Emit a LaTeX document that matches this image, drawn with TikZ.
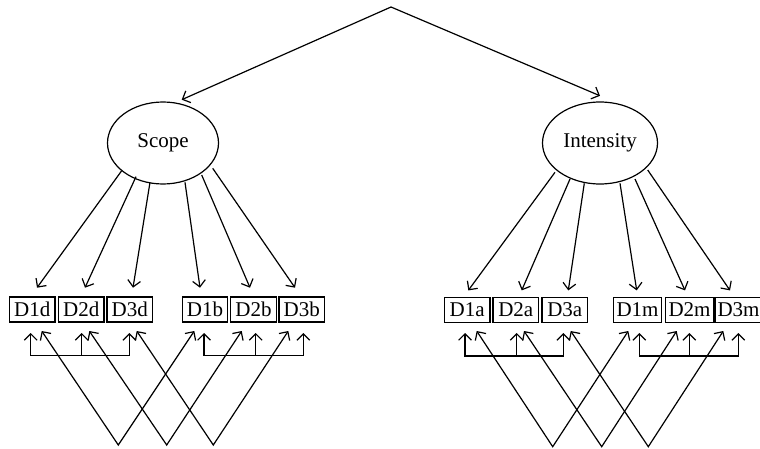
\documentclass[tikz,border=0pt]{standalone}
\usepackage{fontspec}
\setmainfont{Liberation Serif}
\usetikzlibrary{shapes.geometric,arrows.meta,calc}
\begin{document}
\begin{tikzpicture}[x=0.5pt,y=-0.5pt,line width=0.6pt,
  lat/.style={draw,ellipse,inner sep=0pt,minimum height=41pt,font=\fontsize{10.5}{12}\selectfont},
  obs/.style={draw,rectangle,inner sep=0pt,minimum width=22.75pt,minimum height=12.5pt,font=\fontsize{10.5}{12}\selectfont},
  obsm/.style={obs,minimum width=24.25pt},
  arr/.style={-{Straight Barb[length=3.2pt,width=6.4pt]}},
  darr/.style={{Straight Barb[length=3.2pt,width=6.4pt]}-{Straight Barb[length=3.2pt,width=6.4pt]}}]
\useasboundingbox (0,0) rectangle (760,449);
% latent variables
\node[lat,minimum width=55.5pt] (S) at (163,143) {Scope};
\node[lat,minimum width=57.5pt] (I) at (600,143) {Intensity};
\coordinate (top) at (391,7);
\draw[arr] (top) -- ($(S.north)+(18.7,-1.7)$);
\draw[arr] (top) -- ($(I.north)+(0,-5.6)$);
% observed variables
\node[obs] (D1d) at (32.2,309.5) {D1d};
\node[obs] (D2d) at (81.2,309.5) {D2d};
\node[obs] (D3d) at (129.8,309.5) {D3d};
\node[obs] (D1b) at (205,309.5) {D1b};
\node[obs] (D2b) at (253.5,309.5) {D2b};
\node[obs] (D3b) at (301.8,309.5) {D3b};
\node[obs] (D1a) at (467.2,310) {D1a};
\node[obs] (D2a) at (515.8,310) {D2a};
\node[obs] (D3a) at (564.8,310) {D3a};
\node[obsm] (D1m) at (637.5,310) {D1m};
\node[obsm] (D2m) at (689.5,310) {D2m};
\node[obsm,minimum width=23.5pt] (D3m) at (738.5,310) {D3m};
% loadings Scope
\draw[arr] ($(S.center)+(-41.3,27.7)$) -- ($(D1d.north)+(4.8,-8.7)$);
\draw[arr] ($(S.center)+(-27,33.7)$) -- ($(D2d.north)+(3.8,-8.7)$);
\draw[arr] ($(S.center)+(-13,39.3)$) -- ($(D3d.north)+(3.2,-8.7)$);
\draw[arr] ($(S.center)+(22,39.3)$) -- ($(D1b.north)+(-5,-8.7)$);
\draw[arr] ($(S.center)+(38.7,32)$) -- ($(D2b.north)+(-3.5,-8.7)$);
\draw[arr] ($(S.center)+(49.7,25.3)$) -- ($(D3b.north)+(-6.8,-8.7)$);
% loadings Intensity
\draw[arr] ($(I.center)+(-45,29.3)$) -- ($(D1a.north)+(1.1,-6.5)$);
\draw[arr] ($(I.center)+(-30,36)$) -- ($(D2a.north)+(5.9,-6.5)$);
\draw[arr] ($(I.center)+(-15.7,40.3)$) -- ($(D3a.north)+(3.5,-6.5)$);
\draw[arr] ($(I.center)+(20,40.3)$) -- ($(D1m.north)+(-0.8,-6.5)$);
\draw[arr] ($(I.center)+(35,36)$) -- ($(D2m.north)+(-4.5,-6.5)$);
\draw[arr] ($(I.center)+(47.7,27)$) -- ($(D3m.north)+(-8.5,-6.5)$);
% ---- left bottom structure
\coordinate (ld1) at (30.7,333);  \coordinate (ld2) at (81.7,333);  \coordinate (ld3) at (129.3,333);
\coordinate (lb1) at (204,333);   \coordinate (lb2) at (255.7,333); \coordinate (lb3) at (303.3,333);
\draw[darr] (ld1) -- (30.7,355.7) -- (129.3,355.7) -- (ld3);
\draw[arr] (81.7,355.7) -- (ld2);
\draw[darr] (lb1) -- (204,355.7) -- (303.3,355.7) -- (lb3);
\draw[arr] (255.7,355.7) -- (lb2);
\coordinate (V1) at (118.3,445); \coordinate (V2) at (166.7,445); \coordinate (V3) at (213.3,445);
\coordinate (cd1) at (41.7,331);  \coordinate (cd2) at (89.3,331);  \coordinate (cd3) at (136.7,331);
\coordinate (cb1) at (194.3,331); \coordinate (cb2) at (241.7,331); \coordinate (cb3) at (288.3,331);
\draw[darr] (cd1) -- (V1) -- (cb1);
\draw[darr] (cd2) -- (V2) -- (cb2);
\draw[darr] (cd3) -- (V3) -- (cb3);
% ---- right bottom structure
\coordinate (ra1) at (465,333);   \coordinate (ra2) at (516.7,333); \coordinate (ra3) at (563.3,333);
\coordinate (rm1) at (639.3,333); \coordinate (rm2) at (689.3,333); \coordinate (rm3) at (738.3,333);
\draw[darr] (ra1) -- (465,356) -- (563.3,356) -- (ra3);
\draw[arr] (516.7,356) -- (ra2);
\draw[darr] (rm1) -- (639.3,356) -- (738.3,356) -- (rm3);
\draw[arr] (689.3,356) -- (rm2);
\coordinate (W1) at (552.7,446.7); \coordinate (W2) at (601.7,446.7); \coordinate (W3) at (648.3,446.7);
\coordinate (ca1) at (476.7,331); \coordinate (ca2) at (524,331);   \coordinate (ca3) at (570.7,331);
\coordinate (cm1) at (628.3,331); \coordinate (cm2) at (676.7,331); \coordinate (cm3) at (723.3,331);
\draw[darr] (ca1) -- (W1) -- (cm1);
\draw[darr] (ca2) -- (W2) -- (cm2);
\draw[darr] (ca3) -- (W3) -- (cm3);
\end{tikzpicture}
\end{document}
